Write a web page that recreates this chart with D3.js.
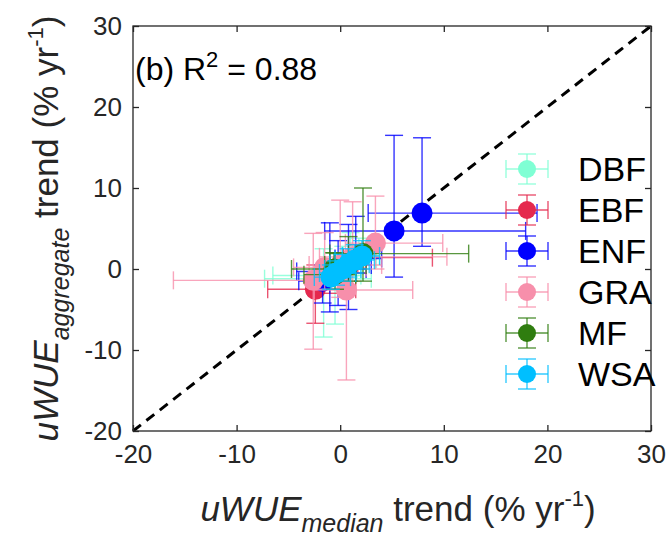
<!DOCTYPE html>
<html>
<head>
<meta charset="utf-8">
<script src="https://cdn.jsdelivr.net/npm/d3@7"></script>
<style>
  body { margin: 0; background: #fff; }
  svg { display: block; font-family: "Liberation Sans", Helvetica, Arial, sans-serif; }
</style>
</head>
<body>
<div id="wrapper"></div>
<script>
// data: [x, y, xLow, xHigh, yLow, yHigh]  (% per yr)
const types = ["DBF", "EBF", "ENF", "GRA", "MF", "WSA"]
const colors = ["#7fffd4", "#e5294e", "#0000ff", "#f78fab", "#2f7d0f", "#00bfff"]

const dbf = [
  [-1.6, -1.2, -7.3, 3.0, -8.4, 2.5],
  [-0.5, -0.8, -6.5, 2.0, -6.8, 1.0],
  [0.3, 0.4, -1.5, 2.2, -1.5, 2.8],
  [1.0, 1.2, -0.5, 3.5, -0.8, 4.5],
  [1.8, 1.7, 0.2, 3.8, 0.0, 3.8]
]
const ebf = [
  [-2.4, -2.5, -7.0, 1.5, -6.7, 0.5],
  [-1.0, -1.0, -2.5, 1.0, -3.0, 1.0],
  [1.7, 1.4, 0.3, 8.9, -0.5, 3.0]
]
const enf = [
  [7.9, 6.9, 2.7, 19.0, 2.8, 16.2],
  [5.2, 4.7, -1.5, 17.9, -1.0, 16.5],
  [-1.7, -1.5, -4.0, 0.8, -4.2, 0.5],
  [-1.0, -0.3, -4.2, 1.5, -5.3, 5.7],
  [-0.2, 0.0, -2.0, 2.5, -4.5, 3.5],
  [0.8, 0.5, -1.0, 3.0, -5.0, 5.5],
  [1.5, 1.3, -0.5, 4.0, -0.5, 6.5]
]
const gra = [
  [-2.6, -1.4, -16.1, 0.5, -9.9, 4.4],
  [0.6, -2.6, -2.5, 7.0, -13.7, 1.5],
  [3.4, 3.2, 0.5, 9.9, 0.0, 9.0],
  [0.0, 0.5, -3.0, 4.0, -3.5, 8.5],
  [1.2, 1.5, -2.0, 10.3, -1.5, 8.3],
  [-1.5, 0.2, -4.5, 2.5, -2.5, 4.5]
]
const mf = [
  [-0.6, 0.0, -4.7, 1.5, -1.5, 2.0],
  [-0.5, -0.7, -3.5, 1.5, -2.5, 2.0],
  [0.8, 0.5, -1.5, 2.5, -1.5, 4.0],
  [2.2, 1.9, -1.0, 12.4, -1.5, 10.0]
]
const wsa = [
  [-0.9, -1.0, -2.5, 1.0, -2.5, 0.5],
  [-0.4, -0.5, -2.0, 1.5, -2.0, 1.0],
  [0.2, 0.0, -1.5, 2.0, -1.5, 1.8],
  [0.8, 0.6, -1.0, 2.8, -1.0, 2.5],
  [1.4, 1.1, -0.5, 3.3, -0.5, 3.0],
  [2.1, 1.6, 0.2, 3.8, 0.0, 3.5]
]
const series = [dbf, ebf, enf, gra, mf, wsa]
const ticks = [-20, -10, 0, 10, 20, 30]
const rSquared = "0.88"

const width = 666
const height = 538
const margin = { top: 26, right: 15, bottom: 107, left: 133 }

const svg = d3.select("#wrapper").append("svg")
  .attr("width", width)
  .attr("height", height)

const xScale = d3.scaleLinear()
  .domain([-20, 30])
  .range([margin.left, width - margin.right])
const yScale = d3.scaleLinear()
  .domain([-20, 30])
  .range([height - margin.bottom, margin.top])

const x0 = xScale.range()[0], x1 = xScale.range()[1]
const y0 = yScale.range()[0], y1 = yScale.range()[1]

// 1:1 line
svg.append("line")
  .attr("x1", xScale(-20)).attr("y1", yScale(-20))
  .attr("x2", xScale(30)).attr("y2", yScale(30))
  .attr("stroke", "#000")
  .attr("stroke-width", 3)
  .attr("stroke-dasharray", "10 7")

// error bars + points
const cap = 9
const plot = svg.append("g")
series.forEach((pts, i) => {
  const g = plot.append("g")
  const bars = g.selectAll("g.bar").data(pts).join("g")
    .attr("stroke", colors[i])
    .attr("stroke-width", 1.4)
    .attr("stroke-opacity", 0.8)
  bars.append("line")
    .attr("x1", d => xScale(d[0])).attr("x2", d => xScale(d[0]))
    .attr("y1", d => yScale(d[4])).attr("y2", d => yScale(d[5]))
  bars.append("line")
    .attr("x1", d => xScale(d[2])).attr("x2", d => xScale(d[3]))
    .attr("y1", d => yScale(d[1])).attr("y2", d => yScale(d[1]))
  ;[4, 5].forEach(k => bars.append("line")
    .attr("x1", d => xScale(d[0]) - cap).attr("x2", d => xScale(d[0]) + cap)
    .attr("y1", d => yScale(d[k])).attr("y2", d => yScale(d[k])))
  ;[2, 3].forEach(k => bars.append("line")
    .attr("x1", d => xScale(d[k])).attr("x2", d => xScale(d[k]))
    .attr("y1", d => yScale(d[1]) - cap).attr("y2", d => yScale(d[1]) + cap))
  g.selectAll("circle").data(pts).join("circle")
    .attr("cx", d => xScale(d[0]))
    .attr("cy", d => yScale(d[1]))
    .attr("r", 10.5)
    .attr("fill", colors[i])
})

// axes box
const axisColor = "#262626"
svg.append("rect")
  .attr("x", x0).attr("y", y1)
  .attr("width", x1 - x0).attr("height", y0 - y1)
  .attr("fill", "none")
  .attr("stroke", axisColor)
  .attr("stroke-width", 1.3)

const tickLen = 6
const fmt = d => String(d) // plain hyphen minus like the original
const xAxis = d3.axisBottom(xScale).tickValues(ticks).tickSize(-tickLen).tickPadding(14).tickFormat(fmt)
const yAxis = d3.axisLeft(yScale).tickValues(ticks).tickSize(-tickLen).tickPadding(11).tickFormat(fmt)

const gx = svg.append("g").attr("transform", `translate(0,${y0})`).call(xAxis)
const gy = svg.append("g").attr("transform", `translate(${x0},0)`).call(yAxis)
// ticks on top and right
svg.append("g").attr("transform", `translate(0,${y1})`)
  .call(d3.axisTop(xScale).tickValues(ticks).tickSize(-tickLen).tickFormat(""))
svg.append("g").attr("transform", `translate(${x1},0)`)
  .call(d3.axisRight(yScale).tickValues(ticks).tickSize(-tickLen).tickFormat(""))

svg.selectAll(".domain").remove()
svg.selectAll(".tick line").attr("stroke", axisColor).attr("stroke-width", 1.3)
svg.selectAll(".tick text")
  .attr("fill", axisColor)
  .style("font-size", "26px")
  .style("font-family", "'Liberation Sans', Helvetica, Arial, sans-serif")
gx.selectAll(".tick text").attr("dy", "0.71em")

// panel label
const title = svg.append("text")
  .attr("x", x0 + 2)
  .attr("y", 80)
  .style("font-size", "32px")
  .attr("fill", "#000")
title.append("tspan").text("(b) R")
title.append("tspan").attr("dy", -13).style("font-size", "22px").text("2")
title.append("tspan").attr("dy", 13).text(" = " + rSquared)

// x label
const xl = svg.append("text")
  .attr("x", (x0 + x1) / 2 + 6)
  .attr("y", 521)
  .attr("text-anchor", "middle")
  .attr("fill", axisColor)
  .style("font-size", "35px")
xl.append("tspan").style("font-style", "italic").text("uWUE")
xl.append("tspan").attr("dy", 11).style("font-style", "italic").style("font-size", "25px").text("median")
xl.append("tspan").attr("dy", -11).text(" trend (% yr")
xl.append("tspan").attr("dy", -15).style("font-size", "22px").text("-1")
xl.append("tspan").attr("dy", 15).text(")")

// y label
const yl = svg.append("text")
  .attr("transform", `translate(58,${(y0 + y1) / 2}) rotate(-90)`)
  .attr("text-anchor", "middle")
  .attr("fill", axisColor)
  .style("font-size", "35px")
yl.append("tspan").style("font-style", "italic").text("uWUE")
yl.append("tspan").attr("dy", 11).style("font-style", "italic").style("font-size", "25px").text("aggregate")
yl.append("tspan").attr("dy", -11).text(" trend (% yr")
yl.append("tspan").attr("dy", -15).style("font-size", "22px").text("-1")
yl.append("tspan").attr("dy", 15).text(")")

// legend
const legX = 527, legY = 169, legStep = 41
const leg = svg.append("g").selectAll("g").data(types).join("g")
  .attr("transform", (d, i) => `translate(${legX},${legY + i * legStep})`)
leg.each(function (d, i) {
  const g = d3.select(this)
  const c = colors[i]
  const s = g.append("g").attr("stroke", c).attr("stroke-width", 1.4).attr("stroke-opacity", 0.8)
  s.append("line").attr("x1", -21).attr("x2", 21)
  s.append("line").attr("y1", -15).attr("y2", 15)
  s.append("line").attr("x1", -21).attr("x2", -21).attr("y1", -9).attr("y2", 9)
  s.append("line").attr("x1", 21).attr("x2", 21).attr("y1", -9).attr("y2", 9)
  s.append("line").attr("x1", -9).attr("x2", 9).attr("y1", -15).attr("y2", -15)
  s.append("line").attr("x1", -9).attr("x2", 9).attr("y1", 15).attr("y2", 15)
  g.append("circle").attr("r", 9).attr("fill", c)
  g.append("text")
    .attr("x", 51)
    .attr("dy", "0.36em")
    .style("font-size", "34px")
    .attr("fill", "#000")
    .text(d)
})
</script>
</body>
</html>
